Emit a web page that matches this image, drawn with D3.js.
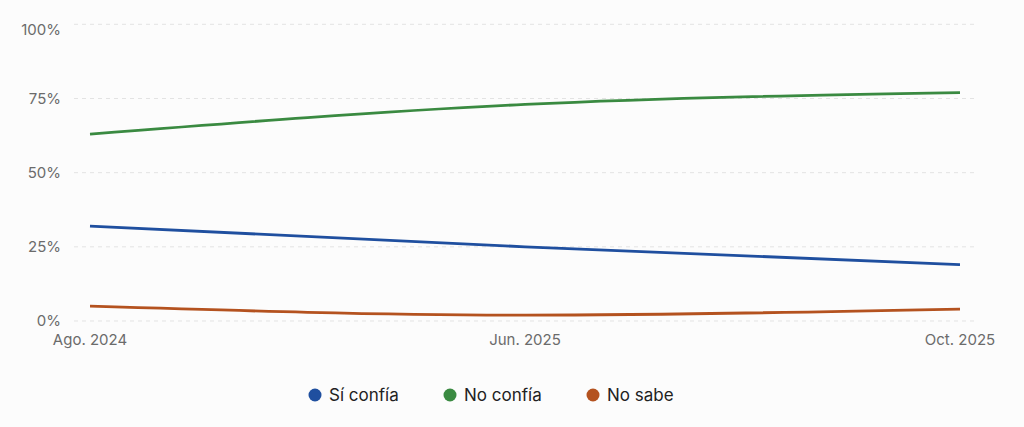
<!DOCTYPE html>
<html>
<head>
<meta charset="utf-8">
<script src="https://cdn.jsdelivr.net/npm/d3@7"></script>
<style>
  html, body { margin: 0; padding: 0; background: #fcfcfc; }
  body { font-family: Inter, "Noto Sans", sans-serif; }
  .tick-label { fill: #6b6b6b; font-size: 15px; }
  .legend-label { fill: #222; font-size: 17px; }
</style>
</head>
<body>
<div id="chart"></div>
<script>
// Data
const periods = ["Ago. 2024", "Jun. 2025", "Oct. 2025"];
const siConfia = [32, 25, 19];
const noConfia = [63, 73, 77];
const noSabe = [5, 2, 4];
const seriesNames = ["Sí confía", "No confía", "No sabe"];
const seriesColors = ["#1f4f9f", "#3a8a41", "#b4521f"];
const yTicks = [0, 25, 50, 75, 100];

const series = [siConfia, noConfia, noSabe].map((values, i) => ({
    name: seriesNames[i],
    color: seriesColors[i],
    values: values
}));

const width = 1024;
const height = 427;

const svg = d3.select("#chart")
    .append("svg")
    .attr("width", width)
    .attr("height", height);

// Scales
const x = d3.scalePoint()
    .domain(periods)
    .range([90, 960]);

const y = d3.scaleLinear()
    .domain([0, 100])
    .range([321, 24.3]);

// Dashed gridlines
svg.append("g")
    .selectAll("line")
    .data(yTicks)
    .enter()
    .append("line")
    .attr("x1", 74)
    .attr("x2", 976)
    .attr("y1", d => y(d))
    .attr("y2", d => y(d))
    .attr("stroke", "#e3e3e3")
    .attr("stroke-width", 1)
    .attr("stroke-dasharray", "4,4");

// Y labels (top one pushed down a bit, as in the original)
svg.append("g")
    .selectAll("text")
    .data(yTicks)
    .enter()
    .append("text")
    .attr("class", "tick-label")
    .attr("x", 61)
    .attr("y", d => y(d) + (d === 100 ? 7 : 1))
    .attr("text-anchor", "end")
    .attr("dominant-baseline", "middle")
    .text(d => d + "%");

// X labels
svg.append("g")
    .selectAll("text")
    .data(periods)
    .enter()
    .append("text")
    .attr("class", "tick-label")
    .attr("x", d => x(d))
    .attr("y", 341)
    .attr("text-anchor", "middle")
    .attr("dominant-baseline", "middle")
    .text(d => d);

// Lines
const line = d3.line()
    .x((d, i) => x(periods[i]))
    .y(d => y(d))
    .curve(d3.curveMonotoneX);

svg.append("g")
    .selectAll("path")
    .data(series)
    .enter()
    .append("path")
    .attr("d", d => line(d.values))
    .attr("fill", "none")
    .attr("stroke", d => d.color)
    .attr("stroke-width", 2.8)
    .attr("stroke-linecap", "butt");

// Legend
const legendX = [315, 450, 593];
const legend = svg.append("g")
    .selectAll("g")
    .data(series)
    .enter()
    .append("g")
    .attr("transform", (d, i) => `translate(${legendX[i]}, 395)`);

legend.append("circle")
    .attr("r", 6.5)
    .attr("fill", d => d.color);

legend.append("text")
    .attr("class", "legend-label")
    .attr("x", 14)
    .attr("y", 1)
    .attr("dominant-baseline", "middle")
    .text(d => d.name);
</script>
</body>
</html>
